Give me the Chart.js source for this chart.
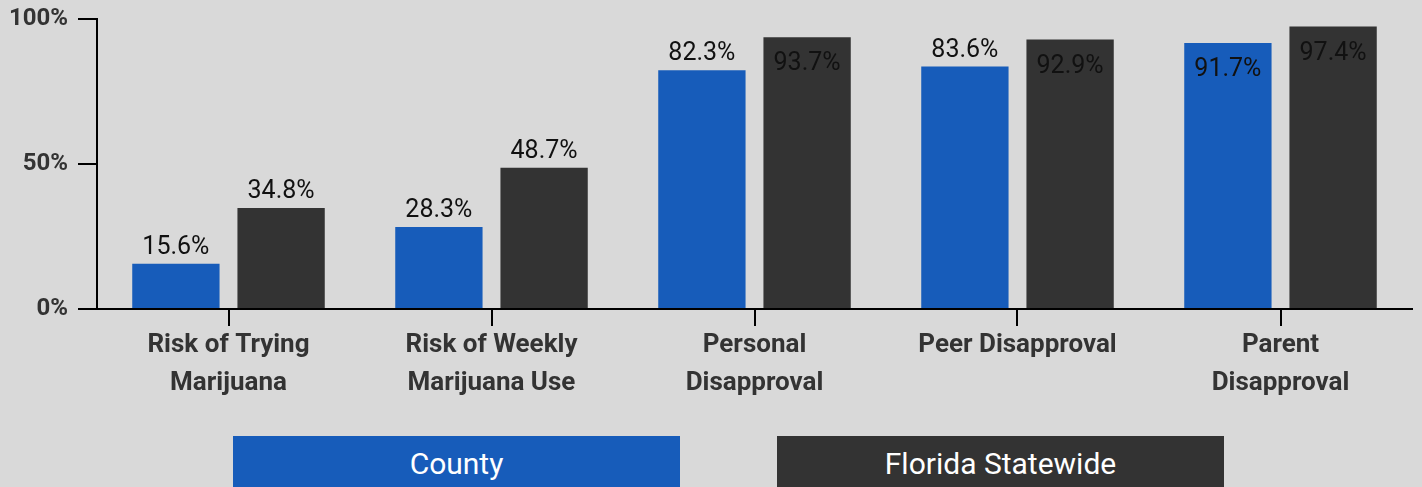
<!DOCTYPE html>
<html lang="en">
<head>
  <meta charset="UTF-8">
  <title>Marijuana Risk and Disapproval</title>
  <script src="https://cdn.jsdelivr.net/npm/chart.js"></script>
  <style>
    body {
      margin: 0;
      background: #d9d9d9;
      width: 1422px;
      height: 487px;
      overflow: hidden;
      position: relative;
      font-family: Roboto, "Noto Sans", sans-serif;
    }
    .chart-box {
      position: absolute;
      left: 0;
      top: 0;
      width: 1422px;
      height: 430px;
    }
    .legend-item {
      position: absolute;
      top: 436px;
      width: 447px;
      height: 56px;
      line-height: 56px;
      text-align: center;
      color: #fff;
      font-size: 30px;
    }
  </style>
</head>
<body>
  <div class="chart-box"><canvas id="barChart"></canvas></div>
  <div class="legend-item" id="legCounty" style="left:233px;"></div>
  <div class="legend-item" id="legState" style="left:777px;"></div>

  <script>
    // data
    const categories = [
      ['Risk of Trying', 'Marijuana'],
      ['Risk of Weekly', 'Marijuana Use'],
      ['Personal', 'Disapproval'],
      ['Peer Disapproval'],
      ['Parent', 'Disapproval']
    ];
    const seriesNames = ['County', 'Florida Statewide'];
    const countyValues = [15.6, 28.3, 82.3, 83.6, 91.7];
    const stateValues = [34.8, 48.7, 93.7, 92.9, 97.4];
    const yTicks = [0, 50, 100];

    const BLUE = '#175cba';
    const DARK = '#333333';

    document.getElementById('legCounty').textContent = seriesNames[0];
    document.getElementById('legCounty').style.background = BLUE;
    document.getElementById('legState').textContent = seriesNames[1];
    document.getElementById('legState').style.background = DARK;

    // value labels: above the bar, or inside near the top when the bar is tall
    const valueLabels = {
      id: 'valueLabels',
      afterDatasetsDraw(chart) {
        const ctx = chart.ctx;
        ctx.save();
        ctx.font = '25px Roboto';
        ctx.fillStyle = '#111';
        ctx.textAlign = 'center';
        ctx.textBaseline = 'alphabetic';
        chart.data.datasets.forEach((ds, i) => {
          chart.getDatasetMeta(i).data.forEach((bar, j) => {
            const v = ds.data[j];
            const txt = v.toFixed(1) + '%';
            const y = v > 90 ? bar.y + 33 : bar.y - 10;
            ctx.fillText(txt, bar.x, y);
          });
        });
        ctx.restore();
      }
    };

    const ctx = document.getElementById('barChart').getContext('2d');

    new Chart(ctx, {
      type: 'bar',
      data: {
        labels: categories,
        datasets: [
          { label: seriesNames[0], data: countyValues, backgroundColor: BLUE },
          { label: seriesNames[1], data: stateValues, backgroundColor: DARK }
        ]
      },
      options: {
        responsive: true,
        maintainAspectRatio: false,
        animation: false,
        datasets: {
          bar: { categoryPercentage: 0.8, barPercentage: 0.83 }
        },
        layout: { padding: { top: 19, right: 10, left: 0, bottom: 0 } },
        plugins: {
          legend: { display: false },
          tooltip: { enabled: false }
        },
        scales: {
          x: {
            afterFit(scale) { scale.height = 121; },
            grid: {
              offset: false,
              drawOnChartArea: false,
              tickLength: 17,
              color: '#000',
              lineWidth: 2
            },
            border: { color: '#000', width: 2 },
            ticks: {
              color: '#333',
              padding: 1,
              maxRotation: 0,
              font: { family: 'Roboto', size: 26, weight: 'bold', lineHeight: 1.45 }
            }
          },
          y: {
            min: 0,
            max: 100,
            afterFit(scale) {
              scale.width = 97;
              scale.paddingTop = 0;
              scale.paddingBottom = 0;
            },
            afterBuildTicks(scale) { scale.ticks = yTicks.map(v => ({ value: v })); },
            grid: {
              drawOnChartArea: false,
              tickLength: 19,
              color: '#000',
              lineWidth: 2
            },
            border: { color: '#000', width: 2 },
            ticks: {
              color: '#333',
              padding: 10,
              font: { family: 'Roboto', size: 24, weight: 'bold' },
              callback: v => v + '%'
            }
          }
        }
      },
      plugins: [valueLabels]
    });
  </script>
</body>
</html>
